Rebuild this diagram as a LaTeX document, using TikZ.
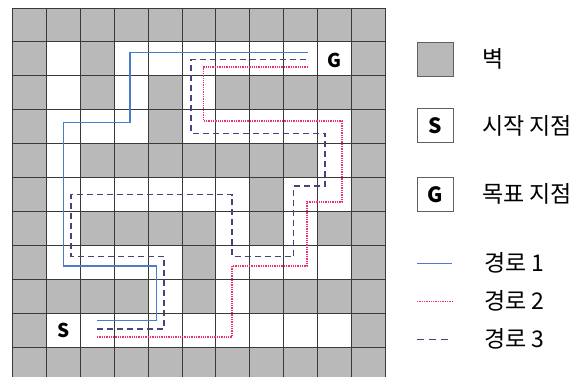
\documentclass[tikz,border=0pt]{standalone}
\usepackage{fontspec}
\newfontfamily\kr{Noto Sans CJK KR}
\definecolor{wallgray}{HTML}{B9B9B9}
\definecolor{gridline}{HTML}{3A3A3A}
\definecolor{pathblue}{HTML}{4A7CC9}
\definecolor{pathred}{HTML}{F0306A}
\definecolor{pathnavy}{HTML}{44447E}
\begin{document}
\begin{tikzpicture}[x=1pt,y=-1pt,
  gridln/.style={draw=gridline,line width=1pt},
  wallcell/.style={fill=wallgray},
  legbox/.style={draw=gridline!80,line width=0.7pt,minimum width=36pt,minimum height=34pt,inner sep=0pt},
  lbl/.style={anchor=west,inner sep=0pt,font=\kr\fontsize{23pt}{23pt}\selectfont},
  letter/.style={inner sep=0pt,font=\kr\bfseries\fontsize{19pt}{19pt}\selectfont},
  bigletter/.style={inner sep=0pt,font=\kr\bfseries\fontsize{21pt}{21pt}\selectfont},
  p1/.style={draw=pathblue,line width=1.4pt},
  p2/.style={draw=pathred,line width=1.8pt,dash pattern=on 1.3pt off 1pt},
  p3/.style={draw=pathnavy,line width=1.5pt,dash pattern=on 6pt off 4pt}]
\useasboundingbox (0,0) rectangle (584,376);
\begin{scope}
\clip (0,0) rectangle (584,376);
\fill[white] (12.5,8) rectangle (385.4,380.9);
\foreach \r/\cl in {0/{0,1,2,3,4,5,6,7,8,9,10},1/{0,2,10},2/{0,2,4,6,7,8,9,10},3/{0,4,10},4/{0,2,3,4,5,6,7,8,10},5/{0,7,10},6/{0,2,3,4,5,7,9,10},7/{0,5,10},8/{0,1,2,3,5,7,8,9,10},9/{0,10},10/{0,1,2,3,4,5,6,7,8,9,10}}{
  \foreach \c in \cl {
    \fill[wallcell] ({12.5+33.9*\c},{8+33.9*\r}) rectangle ++(33.9,33.9);
  }
}
\foreach \i in {0,...,11}{
  \draw[gridln] ({12.5+33.9*\i},8) -- ({12.5+33.9*\i},380.9);
  \draw[gridln] (12.5,{8+33.9*\i}) -- (385.4,{8+33.9*\i});
}
\end{scope}
% start and goal
\node[letter] (S) at (63.5,330) {S};
\node[letter] (G) at (334.5,60) {G};
% paths
\coordinate (s1) at (97,320.5);
\coordinate (g1) at (308,52.5);
\draw[p1] (s1) -- (156.5,320.5) -- (156.5,266) -- (63.5,266) -- (63.5,122.5) -- (130,122.5) -- (130,52.5) -- (g1);
\coordinate (s2) at (97,337);
\coordinate (g2) at (308,67);
\draw[p2] (s2) -- (232,337) -- (232,266) -- (307,266) -- (307,202) -- (342,202) -- (342,121) -- (203.5,121) -- (203.5,67) -- (g2);
\coordinate (s3) at (97,329);
\coordinate (g3) at (308,59.5);
\draw[p3] (s3) -- (164,329) -- (164,256.5) -- (71,256.5) -- (71,194.5) -- (232,194.5) -- (232,256.5) -- (293.5,256.5) -- (293.5,186) -- (325,186) -- (325,133.5) -- (191,133.5) -- (191,59.5) -- (g3);
% legend
\node[legbox,fill=wallgray] (lw) at (435,59) {};
\node[lbl] (tw) at (482,59) {벽};
\node[legbox,fill=white] (ls) at (435,125.5) {};
\node[bigletter] (lsS) at (ls) {S};
\node[lbl] (ts) at (482,126) {시작 지점};
\node[legbox,fill=white] (lg) at (435,194.5) {};
\node[bigletter] (lgG) at (lg) {G};
\node[lbl] (tg) at (482,194) {목표 지점};
\coordinate (a1) at (417,263.5); \coordinate (b1) at (452,263.5);
\draw[p1,line width=1.1pt] (a1) -- (b1);
\node[lbl] (t1) at (484,263) {경로 1};
\coordinate (a2) at (417,301.5); \coordinate (b2) at (452,301.5);
\draw[p2,line width=1.4pt] (a2) -- (b2);
\node[lbl] (t2) at (484,301) {경로 2};
\coordinate (a3) at (417,339.5); \coordinate (b3) at (452,339.5);
\draw[p3,line width=1.1pt,dash pattern=on 7pt off 5pt] (a3) -- (b3);
\node[lbl] (t3) at (484,339) {경로 3};
\end{tikzpicture}
\end{document}
